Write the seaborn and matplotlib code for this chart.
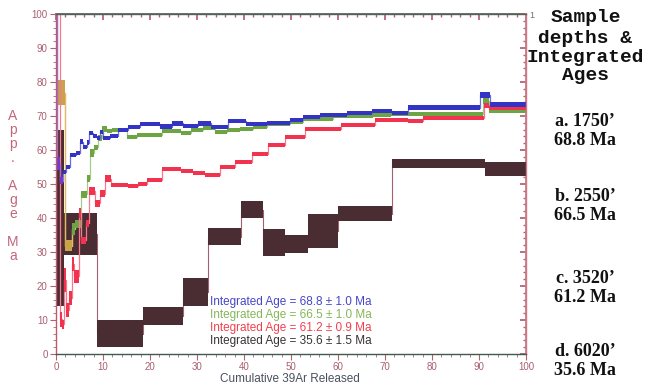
import numpy as np
import pandas as pd
import matplotlib
matplotlib.use("Agg")
import matplotlib.pyplot as plt
from matplotlib.ticker import MultipleLocator
import seaborn as sns

# 40Ar/39Ar step-heating age spectra.
# For each sample: step edges in cumulative 39Ar released (%), apparent age (Ma)
# of each step and the half-height of its error box (Ma).

# a. 1750'
a_edges = [0, 0.3, 0.85, 1.5, 2.1, 3.0, 4.3, 5.1, 5.7, 6.6, 7.0, 7.9, 8.7, 9.4,
           10.1, 11.4, 13.2, 15.3, 17.9, 22.1, 24.7, 27.0, 30.2, 33.0, 36.6,
           40.5, 44.8, 49.8, 52.6, 56.2, 61.9, 67.2, 71.5, 74.8, 90.2, 92.3, 100]
a_ages = [104, 56.0, 51.0, 53.5, 55.0, 58.5, 59.0, 62.4, 60.8, 62.2, 65.1, 64.0,
          63.5, 65.3, 63.6, 64.2, 65.9, 66.7, 67.6, 66.9, 67.8, 67.0, 67.8, 66.7,
          68.4, 67.6, 68.0, 68.9, 69.7, 70.3, 70.8, 71.6, 70.8, 72.5, 76.2, 73.3]
a_err = [2.0, 2.0, 1.0, 0.7, 0.7, 0.6, 0.6, 0.7, 0.6, 0.6, 0.6, 0.6, 0.6, 0.6,
         0.6, 0.6, 0.6, 0.6, 0.6, 0.6, 0.6, 0.6, 0.6, 0.6, 0.6, 0.6, 0.6, 0.6,
         0.6, 0.6, 0.6, 0.6, 0.6, 0.6, 0.9, 0.7]

# b. 2550'
b_edges = [0, 2.0, 3.3, 4.0, 5.3, 6.6, 7.3, 8.1, 9.0, 9.7, 10.8, 12.0, 15.1,
           17.2, 22.5, 26.7, 28.8, 31.3, 33.8, 36.3, 39.2, 42.0, 44.8, 49.8,
           52.6, 59.0, 67.4, 71.3, 90.8, 92.2, 100]
b_ages = [76.8, 31.9, 36.7, 38.2, 47.0, 51.6, 59.2, 60.8, 63.5, 66.2, 65.5, 66.0,
          63.9, 64.3, 65.5, 65.0, 66.0, 66.5, 65.2, 65.8, 66.3, 66.8, 67.7, 68.2,
          69.2, 69.9, 70.4, 70.5, 74.5, 71.6]
b_err = [3.7, 1.6, 1.7, 1.2, 1.0, 1.0, 1.2, 0.8, 0.8, 0.8, 0.6, 0.6, 0.6, 0.6,
         0.6, 0.6, 0.6, 0.6, 0.6, 0.6, 0.6, 0.6, 0.6, 0.6, 0.6, 0.6, 0.6, 0.6,
         1.0, 0.7]

# c. 3520'
c_edges = [0, 0.9, 1.3, 1.7, 2.1, 2.8, 3.3, 3.9, 4.8, 5.4, 6.4, 7.1, 8.2, 9.3,
           10.4, 11.6, 15.4, 17.5, 19.4, 22.5, 26.7, 29.2, 31.7, 34.9, 38.1,
           41.6, 45.2, 48.7, 53.0, 60.7, 67.8, 74.9, 78.1, 91.0, 92.2, 100]
c_ages = [104, 10.2, 8.8, 21.8, 13.0, 16.5, 26.5, 22.8, 41.5, 33.5, 38.4, 48.0,
          44.3, 47.2, 51.6, 49.7, 49.3, 49.9, 51.2, 54.4, 53.8, 53.2, 52.6, 54.9,
          56.6, 58.8, 61.5, 63.8, 66.2, 67.3, 68.8, 68.4, 69.3, 73.2, 72.4]
c_err = [2.0, 2.2, 1.3, 3.5, 2.0, 2.0, 2.0, 1.8, 1.5, 1.0, 1.0, 1.1, 1.0, 1.0,
         1.0, 0.6, 0.6, 0.6, 0.6, 0.6, 0.6, 0.6, 0.6, 0.6, 0.6, 0.6, 0.6, 0.6,
         0.6, 0.6, 0.6, 0.6, 0.6, 0.7, 0.6]

# d. 6020'
d_edges = [0, 1.7, 8.7, 18.5, 27.0, 32.3, 39.4, 44.0, 48.7, 53.6, 60.0, 71.5,
           91.3, 100]
d_ages = [40.0, 35.3, 6.0, 11.2, 18.3, 34.5, 42.5, 32.8, 32.4, 36.2, 41.2, 56.0,
          54.5]
d_err = [26.0, 6.2, 4.0, 2.7, 4.2, 2.5, 2.5, 4.0, 2.7, 5.0, 2.2, 1.4, 2.1]

integrated_text = ["Integrated Age = 68.8 \u00b1 1.0 Ma",
                   "Integrated Age = 66.5 \u00b1 1.0 Ma",
                   "Integrated Age = 61.2 \u00b1 0.9 Ma",
                   "Integrated Age = 35.6 \u00b1 1.5 Ma"]
sample_text = ["a. 1750\u2019\n68.8 Ma", "b. 2550\u2019\n66.5 Ma",
               "c. 3520\u2019\n61.2 Ma", "d. 6020\u2019\n35.6 Ma"]
header_first = "Sample"
header_rest = "depths &\nIntegrated\nAges"
y_title = "A\np\np\n.\n\nA\ng\ne\n\nM\na"
x_title = "Cumulative 39Ar Released"
x_ticks = [0, 10, 20, 30, 40, 50, 60, 70, 80, 90, 100]
y_ticks = [0, 10, 20, 30, 40, 50, 60, 70, 80, 90, 100]

# ---------------------------------------------------------------- styling
sns.set_theme(style="white")
plt.rcParams["font.family"] = ["Liberation Sans", "DejaVu Sans"]

BLUE, BLUE_LINE, PURPLE = "#3434c4", "#6c6ce0", "#7438cc"
GREEN, GREEN_LINE = "#6da544", "#a8cc88"
TAN, TAN_LINE = "#c9a24a", "#e8b860"
RED, RED_LINE = "#f2334f", "#f47a8c"
DARK, DARK_LINE = "#4a2d33", "#a0606e"
ROSE = "#b85c6e"

fig = plt.figure(figsize=(6.48, 3.86), dpi=100)
ax = fig.add_axes([56 / 648, 1 - 354 / 386, 470 / 648, 340 / 386])


def spectrum(edges, ages, errs, box_color, line_color, z, lw=0.9,
             n_accent=0, accent_box=None, accent_line=None):
    edges = np.asarray(edges, float)
    ages = np.asarray(ages, float)
    errs = np.asarray(errs, float)
    df = pd.DataFrame({"x": edges, "age": np.append(ages, ages[-1])})
    sns.lineplot(data=df, x="x", y="age", drawstyle="steps-post",
                 color=line_color, lw=lw, ax=ax, estimator=None,
                 sort=False, legend=False, zorder=z)
    if n_accent:
        sns.lineplot(data=df.iloc[:n_accent + 1], x="x", y="age",
                     drawstyle="steps-post", color=accent_line, lw=lw, ax=ax,
                     estimator=None, sort=False, legend=False, zorder=z + 0.01)
    colors = [accent_box] * n_accent + [box_color] * (len(ages) - n_accent)
    ax.bar(edges[:-1], 2 * errs, width=np.diff(edges), bottom=ages - errs,
           align="edge", color=colors, linewidth=0, zorder=z + 0.05)


spectrum(d_edges, d_ages, d_err, DARK, DARK_LINE, z=1.0, lw=0.8)
spectrum(b_edges, b_ages, b_err, GREEN, GREEN_LINE, z=1.1,
         n_accent=2, accent_box=TAN, accent_line=TAN_LINE)
spectrum(c_edges, c_ages, c_err, RED, RED_LINE, z=1.2)
spectrum(a_edges, a_ages, a_err, BLUE, BLUE_LINE, z=1.3,
         n_accent=3, accent_box=PURPLE, accent_line="#9a70e0")

ax.set_xlim(0, 100)
ax.set_ylim(0, 100)
ax.set_xticks(x_ticks)
ax.set_yticks(y_ticks)
ax.xaxis.set_minor_locator(MultipleLocator(2))
ax.yaxis.set_minor_locator(MultipleLocator(2))
ax.set_xlabel("")
ax.set_ylabel("")
ax.tick_params(axis="both", which="major", direction="out", length=4,
               width=0.8, color=ROSE, labelsize=7, labelcolor="#a8606e", pad=2)
ax.tick_params(axis="both", which="minor", direction="out", length=2.5,
               width=0.6, color=ROSE)
ax.tick_params(bottom=True, left=True, which="both")

for side, col in [("left", "#b85c6e"), ("right", "#c87888"),
                  ("bottom", "#3f5a52"), ("top", "#55625c")]:
    ax.spines[side].set_visible(True)
    ax.spines[side].set_color(col)
    ax.spines[side].set_linewidth(1.0)

# inward ticks on the top and right frame
sec_x = ax.secondary_xaxis("top")
sec_x.set_xticks(x_ticks)
sec_x.xaxis.set_minor_locator(MultipleLocator(2))
sec_x.tick_params(which="major", direction="in", length=4, color=ROSE,
                  labeltop=False)
sec_x.tick_params(which="minor", direction="in", length=2.5, color=ROSE)
sec_x.spines["top"].set_color("#55625c")
sec_y = ax.secondary_yaxis("right")
sec_y.set_yticks(y_ticks)
sec_y.yaxis.set_minor_locator(MultipleLocator(2))
sec_y.tick_params(which="major", direction="in", length=4, color=ROSE,
                  labelright=False)
sec_y.tick_params(which="minor", direction="in", length=2.5, color=ROSE)
sec_y.spines["right"].set_color("#c87888")
fig.text(529 / 648, 1 - 15 / 386, "1", fontsize=6.5, color="#707070",
         ha="left", va="center")

# integrated ages inside the plot
for i, (txt, col) in enumerate(zip(integrated_text,
                                   ["#4646c8", "#86b65a", "#f2404f", "#3a3434"])):
    ax.text(32.8, 15.3 - 3.85 * i, txt, color=col, fontsize=8.5,
            ha="left", va="center")

# axis titles
fig.text(290 / 648, 1 - 379 / 386, x_title, fontsize=8.5,
         color="#4a5060", ha="center", va="center")
fig.text(13 / 648, 1 - 186 / 386, y_title, fontsize=10, color="#c4667a",
         ha="center", va="center", multialignment="center", linespacing=1.0)

# sample key on the right
fig.text(586 / 648, 1 - 17 / 386, header_first, fontsize=14, weight="bold",
         family="Liberation Mono", color="#111111", ha="center", va="center")
fig.text(585 / 648, 1 - 57 / 386, header_rest, fontsize=14, weight="bold",
         family="Liberation Mono", color="#111111", ha="center",
         va="center", multialignment="center", linespacing=1.08)
for txt, py in zip(sample_text, [131, 206, 288, 361]):
    fig.text(585 / 648, 1 - py / 386, txt, fontsize=13, weight="bold",
             family="Liberation Serif", color="#111111", ha="center",
             va="center", multialignment="center", linespacing=1.12)

fig.savefig("out.png", dpi=100)
